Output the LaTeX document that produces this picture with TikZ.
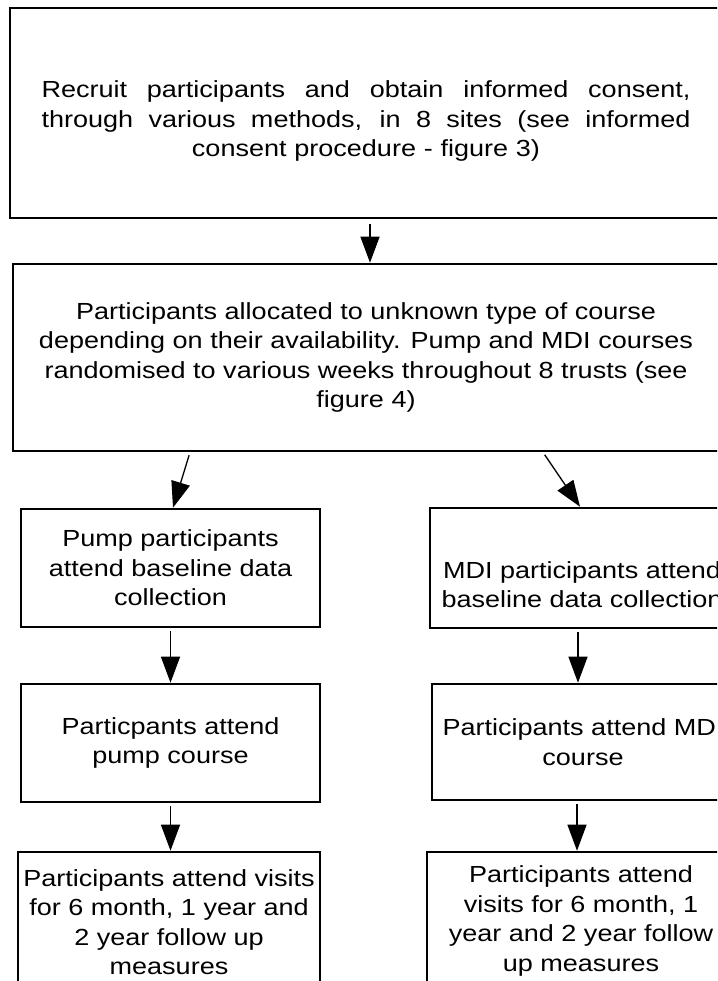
\documentclass[tikz,border=0pt]{standalone}
\usepackage{fontspec}
\setmainfont{Liberation Sans}[FakeStretch=1.16]
\usetikzlibrary{arrows.meta}
\newcommand{\spreadline}[1]{\makebox[649pt][s]{\spaceskip=.3em plus 1fil\relax #1}}

\begin{document}
\begin{tikzpicture}[x=1pt, y=-1pt,
    flowbox/.style={draw, line width=2.6pt, align=center, inner sep=0pt,
      font=\fontsize{23.3}{29.5}\selectfont},
    flowarrow/.style={-{Triangle[length=26pt,width=19pt]}, line width=1.3pt, shorten <=3pt}]
    \useasboundingbox (0,0) rectangle (717,981);
    \clip (0,0) rectangle (717,981);

    \node[flowbox, minimum width=712pt, minimum height=210pt, text width=649pt, text height=33pt] (recruit) at (366,113)
      {\spreadline{Recruit participants and obtain informed consent,}\\
       \spreadline{through various methods, in 8 sites (see informed}\\
       consent procedure - figure 3)};
    \node[flowbox, minimum width=706pt, minimum height=187pt] (alloc) at (366,357.5)
      {Participants allocated to unknown type of course\\
       depending on their availability. Pump and MDI courses\\
       randomised to various weeks throughout 8 trusts (see\\
       figure 4)};

    \node[flowbox, minimum width=299pt, minimum height=118pt] (pumpbase) at (170.5,568)
      {Pump participants\\attend baseline data\\collection};
    \node[flowbox, minimum width=304pt, minimum height=120pt] (mdibase) at (582,568)
      {\strut\\MDI participants attend\\baseline data collection};

    \node[flowbox, minimum width=299pt, minimum height=118pt] (pumpcourse) at (170.5,743)
      {Particpants attend\\pump course};
    \node[flowbox, minimum width=302pt, minimum height=116pt] (mdicourse) at (583,742)
      {Participants attend MDI\\course};

    \node[flowbox, minimum width=302pt, minimum height=140pt] (pumpfollow) at (169,922)
      {Participants attend visits\\for 6 month, 1 year and\\2 year follow up\\measures};
    \node[flowbox, minimum width=308pt, minimum height=138pt] (mdifollow) at (581,921)
      {Participants attend\\visits for 6 month, 1\\year and 2 year follow\\up measures};

    % arrows
    \draw[flowarrow, shorten <=5pt] ([xshift=4pt]recruit.south) -- ([xshift=4pt]alloc.north);
    \draw[flowarrow] ([xshift=-176pt]alloc.south) -- ([xshift=2.5pt]pumpbase.north);
    \draw[flowarrow] ([xshift=177pt]alloc.south) -- ([xshift=-2pt]mdibase.north);
    \draw[flowarrow] (pumpbase) -- (pumpcourse);
    \draw[flowarrow] ([xshift=-4pt]mdibase.south) -- ([xshift=-5pt]mdicourse.north);
    \draw[flowarrow] (pumpcourse.south) -- (pumpcourse.south |- pumpfollow.north);
    \draw[flowarrow] ([xshift=-6pt]mdicourse.south) -- ([xshift=-6pt]mdicourse.south |- mdifollow.north);
\end{tikzpicture}
\end{document}
